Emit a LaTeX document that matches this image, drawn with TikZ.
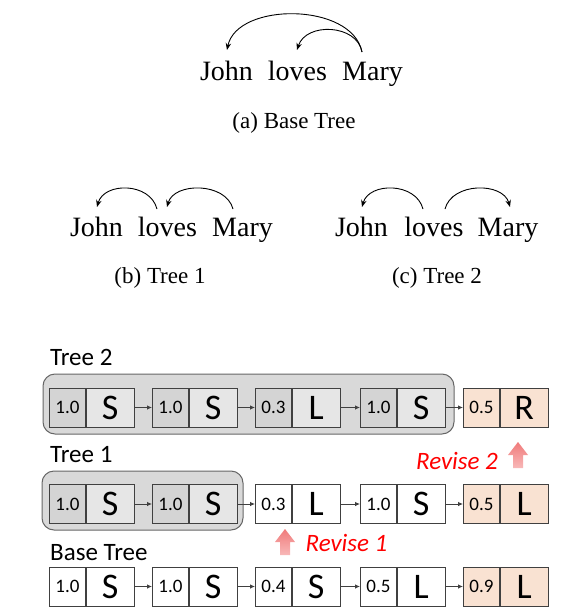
\documentclass[tikz,border=0pt]{standalone}
\usepackage{fontspec}
\setmainfont{Liberation Serif}
\newfontfamily\calfont{Carlito}
\usetikzlibrary{arrows.meta,calc}
\definecolor{boxline}{HTML}{404040}
\definecolor{grpfill}{HTML}{D9D9D9}
\definecolor{grpline}{HTML}{666666}
\definecolor{numfill}{HTML}{D4D4D4}
\definecolor{letfill}{HTML}{E6E6E6}
\definecolor{peach}{HTML}{F9E2D2}
\definecolor{revred}{HTML}{FF0000}
\definecolor{arrtop}{HTML}{F07A7A}
\definecolor{arrbot}{HTML}{F8B8B8}
\tikzset{
  word/.style={font=\fontsize{28}{30}\selectfont, anchor=base, inner sep=0pt},
  captext/.style={font=\fontsize{23}{25}\selectfont, anchor=base, inner sep=0pt},
  dep/.style={-{Stealth[length=7pt,width=5.5pt]}, line width=0.9pt},
  numcell/.style={draw=boxline, line width=0.8pt, minimum width=36pt, minimum height=39pt,
    inner sep=0pt, font=\calfont\fontsize{19}{21}\selectfont, anchor=west},
  letcell/.style={draw=boxline, line width=0.8pt, minimum width=48pt, minimum height=39pt,
    inner sep=0pt, font=\calfont\fontsize{36}{38}\selectfont, anchor=west},
  greynum/.style={fill=numfill}, greylet/.style={fill=letfill},
  whitenum/.style={fill=white}, whitelet/.style={fill=white},
  peachnum/.style={fill=peach}, peachlet/.style={fill=peach},
  link/.style={-{Latex[length=5pt,width=4.5pt]}, draw=boxline, line width=0.8pt},
  rowlabel/.style={font=\calfont\fontsize{25}{27}\selectfont, anchor=west, inner sep=0pt},
  group/.style={draw=grpline, fill=grpfill, line width=1pt, rounded corners=12pt},
  revtext/.style={font=\calfont\itshape\fontsize{25}{27}\selectfont, text=revred, inner sep=0pt},
  revarrow/.style={top color=arrtop, bottom color=arrbot, draw=none},
}
\newcommand\mkbox[6]{%
  \node[numcell,#6num] (#1n) at (#2,#3) {#4};
  \node[letcell,#6let] (#1l) at (#1n.east) {#5};}
\begin{document}
\begin{tikzpicture}[x=1pt,y=-1pt]
\useasboundingbox (0,0) rectangle (579,613);
% ---------- (a) Base tree ----------
\node[word] (aJ) at (226.5,80) {John};
\node[word] (aL) at (297.5,80) {loves};
\node[word] (aM) at (372.5,80) {Mary};
\coordinate (aMs) at (362,52);
\coordinate (aJe) at (227,50);
\coordinate (aLe) at (297,50);
\draw[dep] (aMs) .. controls (352,2) and (237,2) .. (aJe);
\draw[dep] (aMs) .. controls (357,24) and (306,22) .. (aLe);
\node[captext] (capa) at (294,128) {(a) Base Tree};
% ---------- (b) Tree 1 ----------
\node[word] (bJ) at (96.5,236) {John};
\node[word] (bL) at (167.5,236) {loves};
\node[word] (bM) at (242.5,236) {Mary};
\coordinate (bLs) at (157,209);
\coordinate (bJe) at (97,207);
\coordinate (bMs) at (233,209);
\coordinate (bLe) at (167,207);
\draw[dep] (bLs) .. controls (150,182) and (104,182) .. (bJe);
\draw[dep] (bMs) .. controls (226,182) and (174,182) .. (bLe);
\node[captext] (capb) at (160,283) {(b) Tree 1};
% ---------- (c) Tree 2 ----------
\node[word] (cJ) at (361.5,236) {John};
\node[word] (cL) at (434,236) {loves};
\node[word] (cM) at (508,236) {Mary};
\coordinate (cLs) at (423,209);
\coordinate (cJe) at (362,207);
\coordinate (cLs2) at (445,209);
\coordinate (cMe) at (510,207);
\draw[dep] (cLs) .. controls (416,182) and (369,182) .. (cJe);
\draw[dep] (cLs2) .. controls (452,182) and (503,182) .. (cMe);
\node[captext] (capc) at (437,283) {(c) Tree 2};
% ---------- groups ----------
\draw[group] (43,374) rectangle (454,434);
\draw[group] (42,471) rectangle (243,530);
% ---------- labels ----------
\node[rowlabel] (lt2) at (50,357) {Tree 2};
\node[rowlabel] (lt1) at (50,455) {Tree 1};
\node[rowlabel] (lbt) at (50,553) {Base Tree};
% ---------- Tree 2 row ----------
\mkbox{ta}{49}{407.5}{1.0}{S}{grey}
\mkbox{tb}{152}{407.5}{1.0}{S}{grey}
\mkbox{tc}{255}{407.5}{0.3}{L}{grey}
\mkbox{td}{360}{407.5}{1.0}{S}{grey}
\mkbox{te}{463}{407.5}{0.5}{R}{peach}
\draw[link] (tal) -- (tbn);
\draw[link] (tbl) -- (tcn);
\draw[link] (tcl) -- (tdn);
\draw[link] (tdl) -- (ten);
% ---------- Tree 1 row ----------
\mkbox{oa}{49}{504}{1.0}{S}{grey}
\mkbox{ob}{152}{504}{1.0}{S}{grey}
\mkbox{oc}{255}{504}{0.3}{L}{white}
\mkbox{od}{360}{504}{1.0}{S}{white}
\mkbox{oe}{463}{504}{0.5}{L}{peach}
\draw[link] (oal) -- (obn);
\draw[link] (obl) -- (ocn);
\draw[link] (ocl) -- (odn);
\draw[link] (odl) -- (oen);
% ---------- Base row ----------
\mkbox{ba}{49}{586.5}{1.0}{S}{white}
\mkbox{bb}{152}{586.5}{1.0}{S}{white}
\mkbox{bc}{255}{586.5}{0.4}{S}{white}
\mkbox{bd}{360}{586.5}{0.5}{L}{white}
\mkbox{be}{463}{586.5}{0.9}{L}{peach}
\draw[link] (bal) -- (bbn);
\draw[link] (bbl) -- (bcn);
\draw[link] (bcl) -- (bdn);
\draw[link] (bdl) -- (ben);
% ---------- Revise marks ----------
\path[revarrow] (518,442) -- (528,455) -- (523,455) -- (523,468) -- (513,468) -- (513,455) -- (508,455) -- cycle;
\node[revtext] (rev2) at (457,461) {Revise 2};
\path[revarrow] (285,529) -- (295,542) -- (290,542) -- (290,555) -- (280,555) -- (280,542) -- (275,542) -- cycle;
\node[revtext] (rev1) at (346.5,543) {Revise 1};
\end{tikzpicture}
\end{document}
